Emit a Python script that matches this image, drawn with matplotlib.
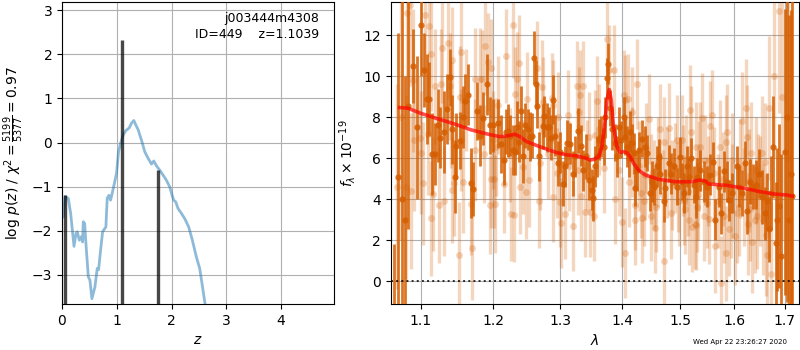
import numpy as np
import matplotlib
matplotlib.use('Agg')
import matplotlib.pyplot as plt
from matplotlib.ticker import FixedLocator, NullLocator, FixedFormatter

# ---- p(z) panel ----
pz_z = [0.01, 0.024, 0.055, 0.115, 0.158, 0.219, 0.255, 0.279, 0.316, 0.352, 0.376,
        0.388, 0.413, 0.437, 0.480, 0.510, 0.546, 0.601, 0.643, 0.668, 0.704, 0.741,
        0.783, 0.801, 0.825, 0.856, 0.886, 0.935, 0.995, 1.032, 1.068, 1.117, 1.165,
        1.226, 1.269, 1.311, 1.347, 1.390, 1.451, 1.511, 1.572, 1.633, 1.675, 1.724,
        1.785, 1.845, 1.906, 1.967, 2.009, 2.039, 2.076, 2.118, 2.179, 2.240, 2.313,
        2.379, 2.452, 2.513, 2.574, 2.610, 2.665]
pz_logp = [-1.70, -1.69, -1.23, -1.27, -1.61, -2.36, -2.07, -2.03, -2.22, -2.14, -2.26,
           -1.80, -1.84, -2.30, -3.05, -3.13, -3.55, -3.28, -2.86, -2.89, -2.45, -2.03,
           -1.95, -1.92, -1.27, -1.20, -1.31, -1.05, -0.70, -0.21, -0.02, 0.17, 0.27,
           0.33, 0.44, 0.50, 0.40, 0.29, 0.05, -0.21, -0.36, -0.49, -0.42, -0.53,
           -0.63, -0.74, -0.86, -1.01, -1.20, -1.31, -1.35, -1.50, -1.61, -1.73, -1.92,
           -2.22, -2.60, -2.86, -3.36, -3.66, -4.10]
peak_z = [0.055, 1.099, 1.748]
peak_top = [-1.20, 2.33, -0.63]

# ---- spectrum panel ----
dark_wave = [1.0655, 1.0705, 1.0757, 1.0800, 1.0834, 1.0899, 1.0950, 1.1003, 1.1043, 1.1087,
             1.1115, 1.1154, 1.1186, 1.1230, 1.1261, 1.1310, 1.1350, 1.1388, 1.1420, 1.1456,
             1.1478, 1.1525, 1.1570, 1.1602, 1.1639, 1.1685, 1.1713, 1.1761, 1.1805, 1.1850,
             1.1911, 1.1946, 1.2000, 1.2068, 1.2116, 1.2150, 1.2179, 1.2213, 1.2238, 1.2277,
             1.2311, 1.2336, 1.2375, 1.2395, 1.2435, 1.2460, 1.2509, 1.2534, 1.2559, 1.2599,
             1.2620, 1.2635, 1.2675, 1.2726, 1.2746, 1.2787, 1.2827, 1.2858, 1.2879, 1.2915,
             1.2967, 1.2993, 1.3034, 1.3070, 1.3107, 1.3149, 1.3190, 1.3227, 1.3280, 1.3317,
             1.3359, 1.3402, 1.3455, 1.3493, 1.3520, 1.3552, 1.3579, 1.3607, 1.3650, 1.3688,
             1.3715, 1.3743, 1.3765, 1.3797, 1.3830, 1.3869, 1.3908, 1.3935, 1.3975, 1.4019,
             1.4047, 1.4075, 1.4103, 1.4131, 1.4159, 1.4190, 1.4215, 1.4244,
             1.4272, 1.4329, 1.4375, 1.4415, 1.4473, 1.4501, 1.4547, 1.4588, 1.4617, 1.4646,
             1.4705, 1.4734, 1.4793, 1.4840, 1.4882, 1.4941, 1.5001, 1.5031, 1.5061, 1.5121,
             1.5163, 1.5200, 1.5242, 1.5278, 1.5309, 1.5369, 1.5431, 1.5492, 1.5554, 1.5604,
             1.5647, 1.5710, 1.5742, 1.5805, 1.5855, 1.5899, 1.5963, 1.6047, 1.6092, 1.6156,
             1.6201, 1.6253, 1.6305, 1.6370, 1.6416, 1.6481, 1.6547, 1.6594, 1.6646, 1.6679,
             1.6720, 1.6766, 1.6813, 1.6850, 1.6881, 1.6928, 1.6995, 1.7036, 1.7080, 1.7117,
             1.7151]
dark_flux = [-2.5, 5.1, 4.0, 3.0, 8.55, 10.5, 7.5, 12.5, 10.3, 8.9,
             8.9, 6.2, 6.2, 7.6, 7.0, 7.3, 8.4, 9.95, 7.4, 5.1,
             6.6, 6.85, 8.0, 8.8, 9.1, 4.8, 4.5, 8.3, 7.1, 7.95,
             9.6, 7.6, 7.6, 7.7, 6.7, 5.9, 7.3, 7.35, 7.1, 6.4,
             6.3, 7.5, 6.8, 8.3, 6.1, 7.6, 7.4, 7.05, 7.1, 10.9,
             9.6, 8.55, 6.1, 7.55, 8.05, 7.5, 7.5, 7.0, 8.85, 7.1,
             5.75, 6.3, 4.75, 5.6, 6.75, 6.7, 5.25, 6.1, 7.35, 6.6,
             5.4, 6.1, 4.95, 4.45, 4.05, 5.6, 6.1, 6.9, 7.05, 6.55,
             8.0, 9.9, 10.6, 8.45, 7.4, 6.75, 6.1, 7.5, 6.9, 8.0,
             7.05, 6.55, 6.0, 7.3, 6.75, 6.25, 4.55, 5.4,
             6.4, 6.95, 6.55, 6.25, 4.3, 4.85, 4.6, 5.6, 6.05, 5.25,
             3.9, 4.55, 5.75, 5.25, 5.6, 4.6, 6.05, 4.85, 4.3, 5.6,
             5.1, 6.0, 4.7, 4.1, 5.1, 5.4, 4.85, 4.6, 5.2, 5.8,
             3.0, 4.6, 3.3, 5.35, 4.85, 3.95, 4.3, 5.6, 4.6, 4.3,
             5.75, 3.4, 4.85, 4.6, 4.7, 5.25, 4.1, 3.3, 3.9, 2.55,
             4.3, 6.55, 1.85, 3.0, 3.65, 1.2, 6.3, 8.0, 3.0, 5.25,
             4.15]
dark_err = [4.3, 7.0, 10.0, 7.0, 6.0, 1.8, 3.5, 2.5, 1.8, 2.2,
            1.8, 2.0, 1.5, 1.8, 1.5, 2.0, 1.7, 1.4, 1.7, 1.8,
            1.6, 1.4, 1.5, 1.3, 1.5, 1.7, 1.3, 1.4, 1.5, 1.3,
            1.5, 1.4, 1.3, 1.2, 1.4, 1.2, 1.1, 1.3, 1.0, 1.2,
            1.1, 1.3, 1.0, 1.2, 1.3, 1.1, 1.0, 1.2, 1.1, 1.3,
            1.2, 1.1, 1.2, 1.1, 1.0, 1.2, 1.0, 1.1, 1.2, 1.0,
            1.1, 1.0, 1.1, 1.0, 1.1, 1.0, 1.1, 1.0, 1.1, 1.0,
            1.0, 1.1, 1.0, 1.0, 1.1, 1.0, 1.0, 1.0, 1.0, 0.9,
            1.0, 1.0, 1.0, 0.9, 1.0, 0.9, 1.0, 1.0, 0.9, 1.0,
            0.9, 1.0, 0.9, 1.0, 0.9, 1.0, 0.9, 1.0,
            0.9, 0.9, 1.0, 0.9, 0.9, 1.0, 0.9, 1.0, 0.9, 1.0,
            1.0, 0.9, 0.9, 1.0, 0.9, 0.9, 1.0, 0.9, 1.0, 1.0,
            0.9, 1.0, 0.9, 1.0, 0.9, 1.0, 1.0, 1.0, 1.0, 1.0,
            1.0, 1.0, 1.0, 1.0, 1.0, 1.0, 1.0, 1.0, 1.0, 1.1,
            1.1, 1.1, 1.1, 1.1, 1.2, 1.2, 1.3, 1.3, 1.4, 1.6,
            1.8, 2.5, 3.0, 3.5, 4.0, 5.0, 7.0, 9.0, 10.0, 8.0,
            10.0]

light_wave = [1.0690, 1.0750, 1.0813, 1.0825, 1.0856, 1.0870, 1.0899, 1.0910, 1.0987, 1.1000,
              1.1030, 1.1061, 1.1097, 1.1105, 1.1132, 1.1140, 1.1163, 1.1186, 1.1239, 1.1274,
              1.1283, 1.1310, 1.1364, 1.1400, 1.1410, 1.1415, 1.1424, 1.1447, 1.1516, 1.1525,
              1.1539, 1.1545, 1.1570, 1.1616, 1.1685, 1.1699, 1.1733, 1.1742, 1.1805, 1.1836,
              1.1864, 1.1883, 1.1922, 1.1950, 1.1959, 1.1969, 1.1990, 1.2011, 1.2020, 1.2030,
              1.2068, 1.2150, 1.2189, 1.2238, 1.2262, 1.2277, 1.2296, 1.2311, 1.2346, 1.2375,
              1.2385, 1.2435, 1.2475, 1.2485, 1.2524, 1.2635, 1.2675, 1.2685, 1.2711, 1.2736,
              1.2812, 1.2863, 1.2879, 1.2889, 1.2941, 1.2967, 1.2993, 1.3003, 1.3070, 1.3123,
              1.3138, 1.3201, 1.3264, 1.3270, 1.3296, 1.3307, 1.3317, 1.3359, 1.3386, 1.3413,
              1.3455, 1.3466, 1.3525, 1.3547, 1.3579, 1.3618, 1.3688, 1.3743, 1.3775, 1.3852,
              1.3880, 1.3935, 1.3991, 1.4019, 1.4036, 1.4047, 1.4092, 1.4114, 1.4159, 1.4160,
              1.4204, 1.4215, 1.4244, 1.4272, 1.4329, 1.4358, 1.4380, 1.4400, 1.4444, 1.4490,
              1.4530, 1.4559, 1.4600, 1.4646, 1.4705, 1.4722, 1.4760, 1.4805, 1.4852, 1.4900,
              1.4941, 1.4971, 1.5031, 1.5045, 1.5061, 1.5100, 1.5151, 1.5182, 1.5200, 1.5210,
              1.5260, 1.5278, 1.5285, 1.5309, 1.5340, 1.5369, 1.5400, 1.5460, 1.5492, 1.5523,
              1.5554, 1.5585, 1.5620, 1.5647, 1.5729, 1.5754, 1.5780, 1.5836, 1.5845, 1.5867,
              1.5899, 1.5931, 1.5950, 1.6061, 1.6120, 1.6156, 1.6220, 1.6253, 1.6260, 1.6280,
              1.6331, 1.6350, 1.6396, 1.6420, 1.6448, 1.6500, 1.6547, 1.6600, 1.6613, 1.6632,
              1.6679, 1.6712, 1.6779, 1.6881, 1.6950, 1.7060,
              1.4320, 1.4480, 1.4580, 1.4700, 1.4840, 1.4960, 1.5080, 1.5140, 1.5320, 1.5440,
              1.5500, 1.5700, 1.5800, 1.5960, 1.6020, 1.6090, 1.6180, 1.6300, 1.6460, 1.6560]
light_flux = [4.6, 8.0, 4.6, 13.1, 13.5, 4.4, 9.8, 6.9, 7.0, 6.27,
              4.77, 13.0, 7.2, 12.46, 11.1, 3.06, 4.25, 9.5, 3.7, 9.6,
              11.4, 3.9, 11.6, 9.5, 8.1, 4.45, 10.8, 4.8, 1.25, 9.0,
              11.2, 6.9, 4.85, 8.84, 3.76, 1.6, 6.4, 9.85, 9.85, 9.85,
              6.2, 11.5, 10.7, 3.7, 5.0, 10.4, 6.9, 5.0, 3.76, 6.56,
              8.6, 4.74, 11.0, 6.16, 3.26, 12.5, 3.22, 9.14, 9.85, 10.67,
              4.58, 5.55, 4.33, 8.88, 4.93, 10.4, 3.9, 5.75, 9.46, 8.76,
              6.2, 8.92, 4.12, 8.6, 5.26, 8.0, 3.88, 2.85, 3.26, 8.1,
              5.62, 2.69, 9.54, 5.42, 8.27, 9.09, 4.15, 9.53, 3.39, 5.67,
              7.02, 3.39, 3.2, 7.13, 8.8, 7.4, 5.5, 11.8, 10.3, 10.3,
              4.0, 5.4, 2.9, 9.1, 1.35, 8.85, 8.9, 4.85, 8.25, 6.3,
              3.7, 3.0, 9.6, 5.6, 3.1, 3.9, 5.2, 6.5, 7.9, 3.2,
              4.7, 2.6, 5.8, 7.4, 6.8, 1.0, 5.3, 7.45, 4.7, 5.5,
              6.9, 3.9, 6.9, 5.4, 3.95, 5.9, 3.0, 8.35, 7.3, 2.65,
              2.8, 6.55, 2.75, 3.6, 5.6, 6.55, 7.95, 5.9, 3.8, 3.05,
              7.55, 8.1, 5.3, 1.7, 6.55, -0.1, 5.0, 6.8, 1.35, 7.3,
              2.55, 3.45, 5.9, 3.3, 5.5, 7.8, 8.45, 7.05, 2.8, 4.9,
              6.25, 1.9, 3.0, 5.4, 3.2, 4.4, 6.25, 5.8, 2.25, 1.25,
              8.45, 0.35, 10.0, 13.2, 9.0, 6.0,
              4.3, 5.0, 3.6, 4.2, 3.3, 4.6, 3.5, 4.4, 4.2, 3.2,
              4.9, 3.9, 3.2, 4.4, 2.2, 3.6, 4.1, 3.5, 4.6, 3.0]
light_err = [5.0, 6.0, 4.5, 4.5, 4.0, 3.8, 3.5, 3.5, 3.0, 3.0,
             3.0, 3.0, 3.0, 3.0, 2.8, 2.8, 2.8, 2.8, 2.8, 2.7,
             2.7, 2.7, 2.7, 2.6, 2.6, 2.6, 2.6, 2.6, 2.6, 2.5,
             2.5, 2.5, 2.5, 2.5, 2.5, 2.5, 2.5, 2.5, 2.5, 2.4,
             2.4, 2.4, 2.4, 2.4, 2.4, 2.4, 2.4, 2.4, 2.4, 2.4,
             2.4, 2.4, 2.3, 2.3, 2.3, 2.6, 2.3, 2.3, 2.3, 2.3,
             2.3, 2.3, 2.3, 2.3, 2.3, 2.3, 2.3, 2.3, 2.3, 2.2,
             2.2, 2.2, 2.2, 2.2, 2.2, 2.2, 2.2, 2.2, 2.2, 2.2,
             2.2, 2.2, 2.2, 2.2, 2.2, 2.2, 2.2, 2.2, 2.2, 2.2,
             2.2, 2.2, 2.2, 2.2, 2.2, 2.2, 2.2, 2.2, 2.2, 2.2,
             2.2, 2.2, 2.2, 2.2, 2.2, 2.2, 2.2, 2.2, 2.2, 2.2,
             2.2, 2.2, 2.2, 2.2, 2.2, 2.2, 2.2, 2.2, 2.2, 2.2,
             2.2, 2.2, 2.2, 2.2, 2.2, 2.2, 2.2, 2.2, 2.2, 2.2,
             2.2, 2.2, 2.2, 2.2, 2.2, 2.2, 2.2, 2.2, 2.2, 2.2,
             2.2, 2.2, 2.2, 2.2, 2.2, 2.2, 2.2, 2.2, 2.2, 2.2,
             2.2, 2.2, 2.2, 2.3, 2.3, 2.3, 2.3, 2.3, 2.3, 2.3,
             2.3, 2.3, 2.3, 2.4, 2.4, 2.4, 2.4, 2.5, 2.5, 2.5,
             2.5, 2.5, 2.6, 2.6, 2.6, 2.7, 2.8, 2.9, 3.0, 3.0,
             3.5, 3.5, 4.0, 5.0, 7.0, 9.0,
             2.2, 2.2, 2.2, 2.2, 2.2, 2.2, 2.2, 2.2, 2.2, 2.2,
             2.2, 2.3, 2.3, 2.3, 2.4, 2.4, 2.4, 2.5, 2.6, 2.7]

model_wave = [1.0727, 1.0834, 1.1003, 1.1230, 1.1456, 1.1685, 1.1950, 1.2092, 1.2189, 1.2311,
              1.2385, 1.2485, 1.2685, 1.2941, 1.3096, 1.3254, 1.3413, 1.3466, 1.3530, 1.3607,
              1.3661, 1.3704, 1.3743, 1.3781, 1.3814, 1.3852, 1.3908, 1.3963, 1.4019, 1.4075,
              1.4131, 1.4187, 1.4272, 1.4387, 1.4617, 1.4911, 1.5211, 1.5301, 1.5369, 1.5460,
              1.5523, 1.5867, 1.6190, 1.6514, 1.6780, 1.7048, 1.7151]
model_flux = [8.47, 8.44, 8.19, 7.92, 7.67, 7.38, 7.15, 7.05, 7.08, 7.17,
              7.05, 6.81, 6.56, 6.27, 6.16, 6.11, 5.99, 5.91, 5.94, 6.07,
              6.56, 7.54, 8.84, 9.35, 8.84, 7.54, 6.56, 6.27, 6.32, 6.27,
              6.07, 5.75, 5.42, 5.18, 4.97, 4.85, 4.85, 4.90, 4.93, 4.88,
              4.74, 4.67, 4.53, 4.36, 4.25, 4.20, 4.15]

wave_ticks = [1.1, 1.2, 1.3, 1.4, 1.5, 1.6, 1.7]
G141 = '#D55E00'

fig = plt.figure(figsize=(8, 3.5), dpi=100)
ax = fig.add_axes([0.0775, 0.1314, 0.3404, 0.8638])
ax.plot(pz_z, pz_logp, color='C0', alpha=0.5, lw=2)
ax.vlines(peak_z, -10, peak_top, color='k', alpha=0.72, lw=2.4)
ax.set_xlim(0, 4.97)
ax.set_ylim(-3.67, 3.2)
ax.set_xticks([0, 1, 2, 3, 4])
ax.grid()
ax.set_xlabel('$z$')
ax.set_ylabel(r'$\log\,p(z)$ / $\chi^2=\frac{5199}{5377}=0.97$')
ax.text(0.945, 0.965, 'j003444m4308\nID=449    z=1.1039', ha='right', va='top',
        transform=ax.transAxes, fontsize=9, linespacing=1.25)

ax2 = fig.add_axes([0.4883, 0.1314, 0.5108, 0.8638])
ax2.errorbar(light_wave, light_flux, yerr=light_err, fmt='o', color=G141, alpha=0.25,
             ms=5, elinewidth=2.4, capsize=0, mew=0, zorder=2)
ax2.errorbar(dark_wave, dark_flux, yerr=dark_err, fmt='o', color=G141, alpha=0.85,
             ms=4.5, elinewidth=2.0, capsize=0, mew=0, zorder=3)
ax2.plot(model_wave, model_flux, color='r', alpha=0.7, lw=2.6, zorder=4)
ax2.axhline(0, color='k', linestyle=':', lw=1.4, alpha=0.8, zorder=5)
ax2.set_xscale('log')
ax2.set_xlim(1.0613, 1.7295)
ax2.set_ylim(-1.12, 13.64)
ax2.xaxis.set_major_locator(FixedLocator(wave_ticks))
ax2.xaxis.set_major_formatter(FixedFormatter([f'{w:.1f}' for w in wave_ticks]))
ax2.xaxis.set_minor_locator(NullLocator())
ax2.grid()
ax2.set_xlabel(r'$\lambda$')
ax2.set_ylabel(r'$f_\lambda\times10^{-19}$')

fig.text(0.984, 0.023, 'Wed Apr 22 23:26:27 2020', ha='right', va='center', fontsize=5)

fig.savefig('out.png', dpi=100)
